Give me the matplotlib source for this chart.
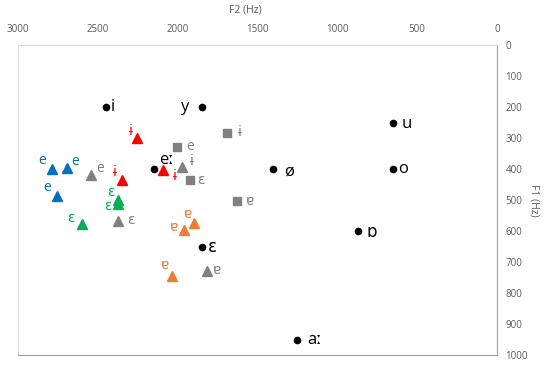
import matplotlib
matplotlib.use("Agg")
import matplotlib.pyplot as plt

plt.rcParams["font.family"] = ["Open Sans", "DejaVu Sans"]

# reference vowels (black dots)
ref_f2 = [2450, 1850, 650, 650, 1400, 2150, 1850, 870, 1250]
ref_f1 = [200, 200, 250, 400, 400, 400, 650, 600, 950]
ref_lab = ["i", "y", "u", "o", "ø", "eː", "ɛ", "ɒ", "aː"]

# speaker groups
blue_f2 = [2790, 2690, 2755]
blue_f1 = [400, 397, 487]
blue_lab = ["e", "e", "e"]

gtri_f2 = [2545, 2376, 1971, 1815]
gtri_f1 = [419, 567, 395, 728]
gtri_lab = ["e", "ɛ", "ɨ", "ɐ"]

gsq_f2 = [2006, 1923, 1689, 1631]
gsq_f1 = [328, 435, 283, 503]
gsq_lab = ["e", "ɛ", "ɨ", "ɐ"]

red_f2 = [2253, 2351, 2090]
red_f1 = [301, 435, 403]
red_lab = ["ɨ", "ɨ", "ɨ"]

green_f2 = [2599, 2372, 2376]
green_f1 = [577, 500, 513]
green_lab = ["ɛ", "ɛ", "ɛ"]

orange_f2 = [1898, 1961, 2038]
orange_f1 = [573, 597, 744]
orange_lab = ["ɐ", "ɐ", "ɐ"]

fig = plt.figure(figsize=(5.5, 3.71), dpi=100)
ax = fig.add_axes([18 / 550, 1 - 355 / 371, 479 / 550, 310 / 371])

ax.set_xlim(3000, 0)
ax.set_ylim(1000, 0)


def label_points(xs, ys, labs, offs, color, size):
    for x, y, t, (dx, dy) in zip(xs, ys, labs, offs):
        ax.annotate(t, (x, y), xytext=(dx, -dy), textcoords="offset pixels",
                    ha="center", va="center", color=color, fontsize=size)


ax.plot(ref_f2, ref_f1, "o", color="black", ms=4.5, ls="none", zorder=3)
label_points(ref_f2, ref_f1, ref_lab,
             [(7, 0), (-17, 0), (14, 2), (10, 0), (16, 3), (13, -9), (11, 1), (14, 2), (17, 1)],
             "black", 12)

groups = [
    (blue_f2, blue_f1, blue_lab, "^", "#0070C0", 6.5,
     [(-9, -8), (8, -7), (-10, -8)]),
    (gtri_f2, gtri_f1, gtri_lab, "^", "#808080", 6.5,
     [(9, -6), (13, 0), (10, -6), (10, 0)]),
    (gsq_f2, gsq_f1, gsq_lab, "s", "#808080", 5.2,
     [(13, 0), (11, 1), (12, 0), (13, 1)]),
    (red_f2, red_f1, red_lab, "^", "#FF0000", 6.5,
     [(-6, -7), (-7, -7), (12, 7)]),
    (green_f2, green_f1, green_lab, "^", "#00B050", 6.5,
     [(-11, -5), (-7, -7), (-10, 2)]),
    (orange_f2, orange_f1, orange_lab, "^", "#ED7D31", 6.5,
     [(-6, -8), (-10, -3), (-7, -10)]),
]
for xs, ys, labs, mk, col, ms, offs in groups:
    ax.plot(xs, ys, mk, color=col, ms=ms, ls="none", zorder=3)
    label_points(xs, ys, labs, offs, col, 10)

ax.set_xticks([3000, 2500, 2000, 1500, 1000, 500, 0])
ax.set_yticks(range(0, 1001, 100))
ax.xaxis.tick_top()
ax.yaxis.tick_right()
ax.tick_params(axis="both", length=0, labelsize=7, labelcolor="#595959")
ax.tick_params(axis="x", pad=7)
ax.tick_params(axis="y", pad=6)

ax.set_xlabel("F2 (Hz)", fontsize=7.5, color="#595959")
ax.xaxis.set_label_position("top")
ax.xaxis.set_label_coords(0.474, 1.105)
ax.set_ylabel("F1 (Hz)", fontsize=7.5, color="#595959", rotation=270, va="center")
ax.yaxis.set_label_position("right")
ax.yaxis.set_label_coords(1.088, 0.5)

for s in ["left", "top"]:
    ax.spines[s].set_color("#D9D9D9")
for s in ["right", "bottom"]:
    ax.spines[s].set_color("#A0A0A0")

fig.savefig("out.png", dpi=100)
